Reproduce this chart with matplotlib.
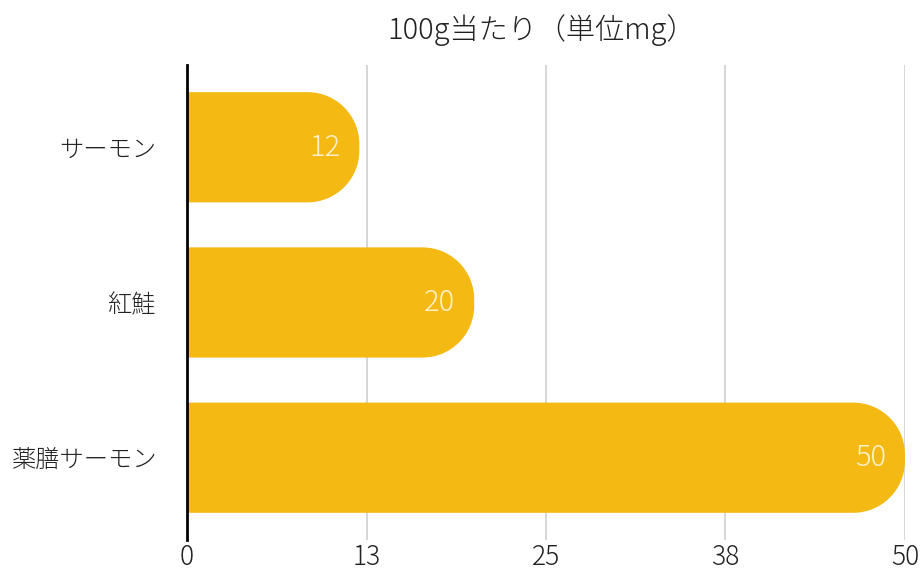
import matplotlib
matplotlib.use("Agg")
import matplotlib.pyplot as plt
from matplotlib.path import Path
from matplotlib.patches import PathPatch
import numpy as np

plt.rcParams['font.family'] = ['Noto Sans CJK JP', 'DejaVu Sans']
plt.rcParams['font.weight'] = 'light'

# data
categories = ["サーモン", "紅鮭", "薬膳サーモン"]
values = [12, 20, 50]
title = "100g当たり（単位mg）"
tick_vals = [0, 12.5, 25, 37.5, 50]
tick_labels = ["0", "13", "25", "38", "50"]

bar_color = "#F5B914"
bar_h = 0.71
K = 0.5523  # bezier circle factor

fig = plt.figure(figsize=(9.24, 5.69), dpi=100)
ax = fig.add_axes([0.2024, 0.051, 0.7770, 0.8348])
ax.set_xlim(0, 50)
ax.set_ylim(2.53, -0.53)

# pixel scale so the rounded end looks circular
W = fig.get_figwidth() * fig.dpi * 0.7770
H = fig.get_figheight() * fig.dpi * 0.8348
px_x = W / 50.0
px_y = H / 3.06
r_px = bar_h * px_y * 0.47


def rounded_bar(y, v):
    rx = min(r_px / px_x, v)
    ry = r_px / px_y
    y0 = y - bar_h / 2
    y1 = y + bar_h / 2
    verts = [(0, y0), (v - rx, y0),
             (v - rx + K * rx, y0), (v, y0 + ry - K * ry), (v, y0 + ry),
             (v, y1 - ry),
             (v, y1 - ry + K * ry), (v - rx + K * rx, y1), (v - rx, y1),
             (0, y1), (0, y0)]
    codes = [Path.MOVETO, Path.LINETO,
             Path.CURVE4, Path.CURVE4, Path.CURVE4,
             Path.LINETO,
             Path.CURVE4, Path.CURVE4, Path.CURVE4,
             Path.LINETO, Path.CLOSEPOLY]
    return PathPatch(Path(verts, codes), facecolor=bar_color, edgecolor="none", zorder=2)


for i, v in enumerate(values):
    ax.add_patch(rounded_bar(i, v))
    ax.text(v - 19 / px_x, i, str(v), ha="right", va="center",
            color="#FFF2CC", fontsize=21, zorder=3)

ax.set_yticks(range(len(categories)))
ax.set_yticklabels(categories, fontsize=17.5, color="#222222")
ax.set_xticks(tick_vals)
ax.set_xticklabels(tick_labels, fontsize=19, color="#222222")
ax.tick_params(length=0)
ax.tick_params(axis="y", pad=22)
ax.tick_params(axis="x", pad=2)

ax.grid(axis="x", color="#D3D3D3", linewidth=1.3, zorder=0)
ax.set_axisbelow(True)
for s in ["top", "right", "bottom"]:
    ax.spines[s].set_visible(False)
ax.spines["left"].set_linewidth(2)
ax.spines["left"].set_color("black")
ax.spines["left"].set_zorder(4)

fig.text(0.586, 0.948, title, ha="center", va="center", fontsize=21, color="#222222")

fig.savefig("out.png", dpi=100)
